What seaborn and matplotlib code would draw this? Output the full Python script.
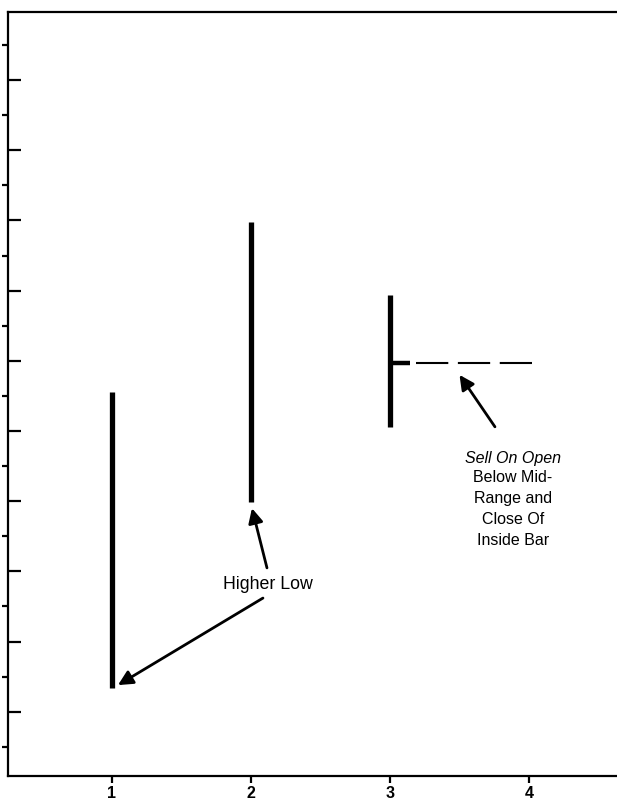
import numpy as np
import pandas as pd
import seaborn as sns
import matplotlib.pyplot as plt

# bar data (x = bar number, prices in chart units)
bar_x = [1, 2, 3]
bar_high = [5.55, 7.98, 6.94]
bar_low = [1.34, 3.99, 5.06]
close_x = 3
close_price = 5.97
dash_start = 3.19
dash_end = 4.02
x_ticks = [1, 2, 3, 4]
x_tick_labels = ["1", "2", "3", "4"]

sns.set_style("ticks")
plt.rcParams["font.family"] = ["Liberation Sans", "DejaVu Sans"]
plt.rcParams["text.color"] = "black"
plt.rcParams["xtick.color"] = "black"
plt.rcParams["ytick.color"] = "black"
plt.rcParams["axes.edgecolor"] = "black"

df = pd.DataFrame({
    "bar": np.repeat(bar_x, 2),
    "price": np.ravel(np.column_stack([bar_low, bar_high])),
})

fig = plt.figure(figsize=(6.17, 8.08), dpi=100)
ax = fig.add_axes([8 / 617, 32 / 808, 1 - 8 / 617, 764 / 808])

sns.lineplot(data=df, x="bar", y="price", units="bar", estimator=None,
             color="black", linewidth=3.8, ax=ax, legend=False)
for ln in ax.lines:
    ln.set_solid_capstyle("butt")

# close tick of inside bar and dashed mid-range line
ax.hlines(close_price, close_x, close_x + 0.145, color="black", linewidth=3.2)
ax.hlines(close_price, dash_start, dash_end, color="black", linewidth=1.5,
          linestyles=(0, (15.5, 4.6)))

ax.set_xlim(0.252, 4.633)
ax.set_ylim(0.085, 10.97)
ax.set_xticks(x_ticks)
ax.set_xticklabels(x_tick_labels, fontsize=11.5, fontweight="bold")
ax.set_yticks(range(1, 11))
ax.set_yticks(np.arange(0.5, 11, 1.0), minor=True)
ax.set_yticklabels([])
ax.tick_params(axis="y", which="major", direction="in", length=9, width=1.6)
ax.tick_params(axis="y", which="minor", direction="out", length=4.5, width=1.6)
ax.tick_params(axis="x", direction="out", length=5, width=1.6, pad=2)
ax.set_xlabel("")
ax.set_ylabel("")
for side in ["left", "bottom", "top"]:
    ax.spines[side].set_linewidth(1.6)
ax.spines["right"].set_visible(False)

arrow = dict(arrowstyle="-|>", color="black", lw=2, mutation_scale=22,
             shrinkA=0, shrinkB=0)
ax.text(2.12, 2.81, "Higher Low", ha="center", va="center", fontsize=12.8)
ax.annotate("", xy=(2.007, 3.90), xytext=(2.115, 3.05), arrowprops=arrow)
ax.annotate("", xy=(1.043, 1.38), xytext=(2.086, 2.62), arrowprops=arrow)

ax.annotate("", xy=(3.50, 5.80), xytext=(3.755, 5.06), arrowprops=arrow)
ax.text(3.885, 4.615, "Sell On Open", ha="center", va="center",
        fontsize=11.5, style="italic")
ax.text(3.885, 4.615 - 12 / 70.2, "Below Mid-\nRange and\nClose Of\nInside Bar",
        ha="center", va="top", fontsize=11.5, linespacing=1.5)

fig.savefig("out.png", dpi=100)
